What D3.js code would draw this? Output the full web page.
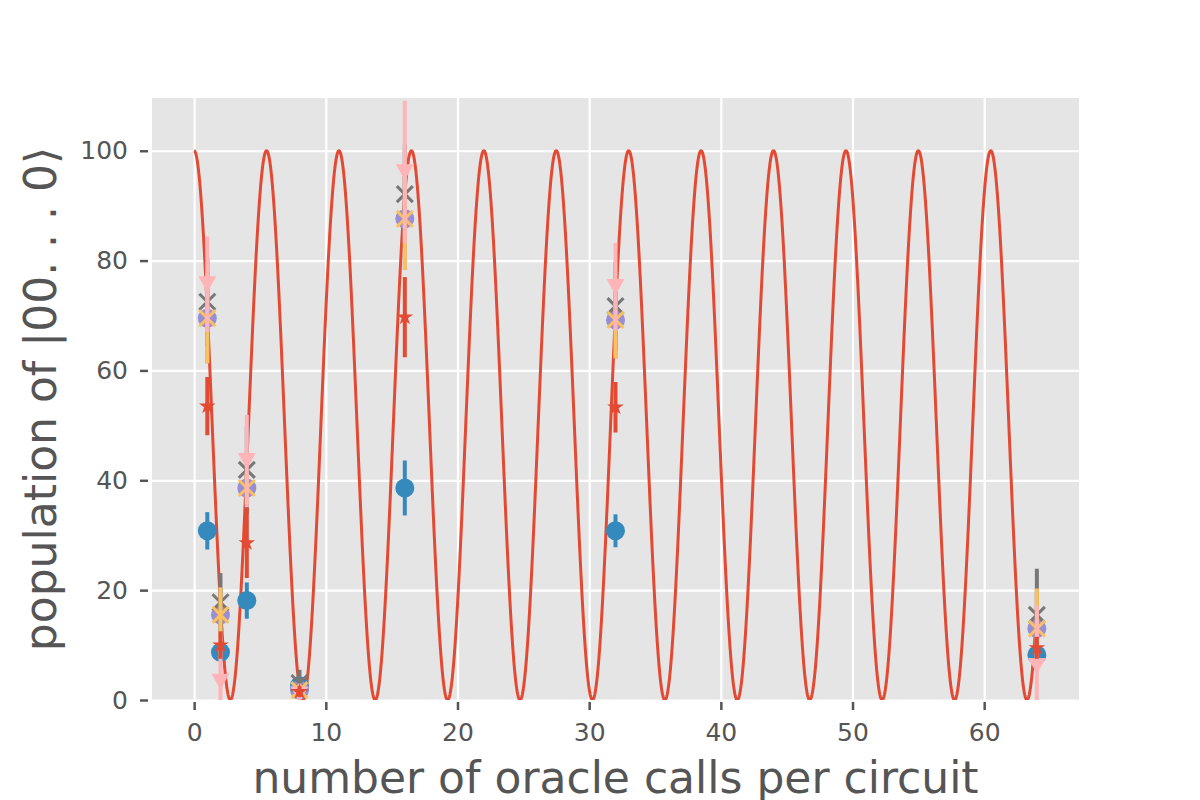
<!DOCTYPE html>
<html>
<head>
<meta charset="utf-8">
<script src="https://cdn.jsdelivr.net/npm/d3@7"></script>
<style>
  body { margin: 0; background: #fff; }
  svg { font-family: "DejaVu Sans", sans-serif; }
</style>
</head>
<body>
<div id="chart"></div>
<script>
// oracle calls per circuit
const calls = [1, 2, 4, 8, 16, 32, 64];

// measured populations (percent) and their error bars
const blueVals   = [30.8, 8.7, 18.1, 2.6, 38.6, 30.8, 8.2];
const blueErr    = [3.4, 1.5, 3.3, 1.5, 5.0, 3.0, 3.0];
const purpleVals = [69.5, 15.5, 38.6, 1.8, 87.6, 69.2, 13.0];
const purpleErr  = [8.2, 5.0, 3.0, 1.0, 9.3, 7.0, 7.3];
const grayVals   = [72.5, 17.8, 41.9, 3.1, 92.1, 71.7, 15.5];
const grayErr    = [8.0, 5.3, 8.0, 2.4, 9.0, 8.0, 8.4];
const yellowVals = [69.5, 15.5, 38.6, 1.8, 87.6, 69.2, 13.0];
const yellowErr  = [8.2, 5.0, 3.0, 1.0, 9.3, 7.0, 7.3];
const pinkVals   = [75.7, 3.3, 43.5, 1.0, 96.1, 75.2, 6.2];
const pinkErr    = [8.7, 8.0, 8.4, 2.0, 13.0, 8.0, 11.0];
const redVals    = [53.5, 10.0, 28.6, 1.5, 69.7, 53.3, 9.5];
const redErr     = [5.3, 2.5, 6.4, 1.0, 7.3, 4.6, 2.0];

// ideal curve: 100 * cos^2(pi * k / period)
const idealPeriod = 5.5;
const idealRange = [0, 64];

const xTicks = [0, 10, 20, 30, 40, 50, 60];
const yTicks = [0, 20, 40, 60, 80, 100];

const W = 1200, H = 800;
const m = {left: 152, right: 1079, top: 98, bottom: 700};

const svg = d3.select('#chart').append('svg')
  .attr('width', W).attr('height', H);

const x = d3.scaleLinear().domain([-3.2, 67.2]).range([m.left, m.right]);
const y = d3.scaleLinear().domain([0, 109.6]).range([m.bottom, m.top]);

//background + grid
svg.append('rect')
  .attr('x', m.left).attr('y', m.top)
  .attr('width', m.right - m.left).attr('height', m.bottom - m.top)
  .attr('fill', '#E5E5E5');

svg.append('g')
  .attr('transform', `translate(0,${m.bottom})`)
  .call(d3.axisBottom(x).tickValues(xTicks).tickSize(-(m.bottom - m.top)).tickFormat(''))
  .call(g => g.select('.domain').remove())
  .call(g => g.selectAll('line').attr('stroke', '#fff').attr('stroke-width', 2.2));

svg.append('g')
  .attr('transform', `translate(${m.left},0)`)
  .call(d3.axisLeft(y).tickValues(yTicks).tickSize(-(m.right - m.left)).tickFormat(''))
  .call(g => g.select('.domain').remove())
  .call(g => g.selectAll('line').attr('stroke', '#fff').attr('stroke-width', 2.2));

//tick marks + labels (ticks sit slightly off the axes edge)
const xAxis = svg.append('g')
  .attr('transform', `translate(0,${m.bottom + 2})`)
  .call(d3.axisBottom(x).tickValues(xTicks).tickSize(8).tickPadding(13).tickFormat(d3.format('d')));
const yAxis = svg.append('g')
  .attr('transform', `translate(${m.left - 4},0)`)
  .call(d3.axisLeft(y).tickValues(yTicks).tickSize(8).tickPadding(12).tickFormat(d3.format('d')));
[xAxis, yAxis].forEach(a => {
  a.select('.domain').remove();
  a.selectAll('line').attr('stroke', '#555555').attr('stroke-width', 2.5);
  a.selectAll('text').attr('fill', '#555555').style('font-size', '25px')
    .style('font-family', '"DejaVu Sans", sans-serif');
});

//clip to axes area
svg.append('clipPath').attr('id', 'clip')
  .append('rect')
  .attr('x', m.left).attr('y', m.top)
  .attr('width', m.right - m.left).attr('height', m.bottom - m.top);

const plot = svg.append('g').attr('clip-path', 'url(#clip)');

//ideal curve
const curvePts = d3.range(idealRange[0], idealRange[1] + 0.0001, 0.02)
  .map(k => [k, 100 * Math.cos(Math.PI * k / idealPeriod) ** 2]);
plot.append('path')
  .datum(curvePts)
  .attr('d', d3.line().x(d => x(d[0])).y(d => y(d[1])))
  .attr('fill', 'none')
  .attr('stroke', '#E24A33')
  .attr('stroke-width', 3);

//measured series, drawn in order
const series = [
  {vals: blueVals,   err: blueErr,   color: '#348ABD', marker: 'circle'},
  {vals: purpleVals, err: purpleErr, color: '#988ED5', marker: 'circle'},
  {vals: grayVals,   err: grayErr,   color: '#777777', marker: 'x'},
  {vals: yellowVals, err: yellowErr, color: '#FBC15E', marker: 'x'},
  {vals: pinkVals,   err: pinkErr,   color: '#FFB5B8', marker: 'v'},
  {vals: redVals,    err: redErr,    color: '#E24A33', marker: 'star'}
];

const star = d3.symbol().type(d3.symbolStar).size(85);
const tri = 'M-9,-8L9,-8L0,8Z';

series.forEach(s => {
  const pts = calls.map((c, i) => ({c, v: s.vals[i], e: s.err[i]}));
  const g = plot.append('g');

  g.selectAll('line.err').data(pts).join('line')
    .attr('x1', d => x(d.c)).attr('x2', d => x(d.c))
    .attr('y1', d => y(d.v - d.e)).attr('y2', d => y(d.v + d.e))
    .attr('stroke', s.color).attr('stroke-width', 4);

  const mk = g.selectAll('g.mk').data(pts).join('g')
    .attr('transform', d => `translate(${x(d.c)},${y(d.v)})`);

  if (s.marker === 'circle') {
    mk.append('circle').attr('r', 9.5).attr('fill', s.color);
  } else if (s.marker === 'x') {
    mk.append('path').attr('d', 'M-8,-8L8,8M-8,8L8,-8')
      .attr('stroke', s.color).attr('stroke-width', 3).attr('fill', 'none');
  } else if (s.marker === 'v') {
    mk.append('path').attr('d', tri).attr('fill', s.color);
  } else {
    mk.append('path').attr('d', star).attr('fill', s.color);
  }
});

//axis labels
svg.append('text')
  .attr('x', (m.left + m.right) / 2).attr('y', 793)
  .attr('text-anchor', 'middle')
  .attr('fill', '#555555').style('font-size', '44px')
  .text('number of oracle calls per circuit');

svg.append('text')
  .attr('transform', `translate(56,${(m.top + m.bottom) / 2}) rotate(-90)`)
  .attr('text-anchor', 'middle')
  .attr('fill', '#555555').style('font-size', '44px')
  .text('population of |00. . . 0⟩');
</script>
</body>
</html>
